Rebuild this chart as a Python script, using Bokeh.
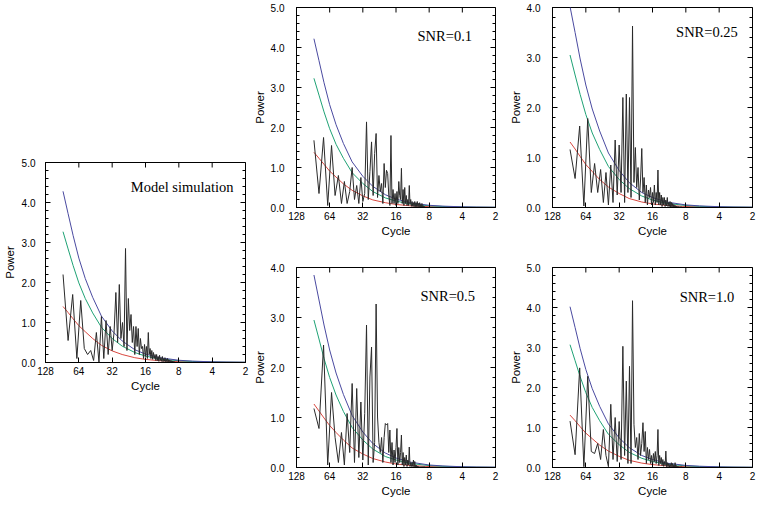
import math
from bokeh.plotting import figure
from bokeh.layouts import row, column
from bokeh.models import (Range1d, FixedTicker, SingleIntervalTicker,
                          PrintfTickFormatter, Label)
from bokeh.embed import file_html
from bokeh.resources import INLINE

# ---------------- data ----------------
record_length = 800
freq_index = list(range(9, 93))                       # spectral frequency index k
periods = [record_length / k for k in freq_index]     # cycle length of each spectral estimate
curve_periods = [88.9, 80, 72, 64, 56, 48, 40, 32, 26, 20, 16, 12, 8, 6, 4, 3, 2]
cycle_ticks = [128, 64, 32, 16, 8, 4, 2]

model_power = [
    2.20, 0.55, 1.70, 0.10, 1.55, 0.35, 0.20, 0.30, 0.05, 0.75,
    0.00, 1.15, 0.10, 1.05, 0.20, 0.90, 0.30, 0.75, 1.75, 0.50,
    1.95, 0.60, 1.00, 0.40, 2.85, 0.30, 1.60, 0.80, 1.20, 0.50,
    0.90, 0.20, 0.90, 0.40, 0.85, 0.20, 0.60, 0.35, 0.40, 0.10,
    0.45, 0.15, 0.40, 0.10, 0.75, 0.20, 0.35, 0.10, 0.30, 0.08,
    0.25, 0.10, 0.20, 0.05, 0.20, 0.05, 0.15, 0.03, 0.18, 0.05,
    0.12, 0.03, 0.15, 0.02, 0.10, 0.03, 0.12, 0.02, 0.08, 0.02,
    0.10, 0.01, 0.07, 0.02, 0.06, 0.01, 0.05, 0.01, 0.04, 0.01,
    0.03, 0.01, 0.02, 0.01]
model_red = [1.40, 1.25, 1.09, 0.92, 0.77, 0.60, 0.43, 0.29, 0.20, 0.12, 0.077, 0.045, 0.021, 0.013, 0.006, 0.004, 0.002]
model_green = [3.27, 2.84, 2.42, 1.99, 1.60, 1.24, 0.88, 0.60, 0.41, 0.25, 0.16, 0.092, 0.043, 0.026, 0.013, 0.008, 0.005]
model_blue = [4.28, 3.72, 3.17, 2.61, 2.10, 1.63, 1.16, 0.79, 0.54, 0.32, 0.21, 0.12, 0.056, 0.034, 0.017, 0.011, 0.006]

snr01_power = [
    1.68, 0.35, 1.75, 0.05, 1.55, 0.30, 0.80, 0.10, 0.65, 0.10,
    0.40, 1.00, 0.20, 0.55, 0.10, 0.75, 0.15, 0.35, 2.14, 0.20,
    0.90, 1.64, 0.30, 1.35, 1.85, 0.25, 0.80, 0.40, 0.60, 0.10,
    1.10, 0.50, 0.93, 0.85, 0.30, 0.05, 1.80, 0.10, 0.45, 0.10,
    0.35, 0.05, 0.40, 0.10, 0.65, 0.30, 0.20, 0.98, 0.10, 0.45,
    0.05, 0.50, 0.10, 0.30, 0.05, 0.20, 0.05, 0.55, 0.08, 0.20,
    0.03, 0.15, 0.03, 0.12, 0.02, 0.15, 0.02, 0.12, 0.02, 0.15,
    0.02, 0.10, 0.01, 0.12, 0.01, 0.08, 0.01, 0.10, 0.01, 0.05,
    0.01, 0.03, 0.01, 0.01]
snr01_red = [1.38, 1.23, 1.08, 0.91, 0.76, 0.59, 0.43, 0.29, 0.19, 0.12, 0.076, 0.044, 0.021, 0.012, 0.006, 0.003, 0.002]
snr01_green = [3.23, 2.81, 2.39, 1.97, 1.58, 1.23, 0.87, 0.60, 0.40, 0.24, 0.16, 0.090, 0.042, 0.026, 0.013, 0.008, 0.005]
snr01_blue = [4.22, 3.67, 3.12, 2.57, 2.07, 1.60, 1.14, 0.78, 0.53, 0.32, 0.21, 0.12, 0.055, 0.034, 0.017, 0.011, 0.006]

snr025_power = [
    1.16, 0.58, 1.63, 0.03, 1.78, 0.30, 0.88, 0.30, 0.76, 0.10,
    0.70, 0.05, 0.85, 0.10, 1.35, 0.25, 1.25, 0.30, 2.20, 0.10,
    2.27, 0.30, 2.20, 0.20, 3.63, 0.50, 1.20, 0.40, 0.80, 0.15,
    0.55, 1.18, 0.30, 0.60, 0.10, 0.45, 0.05, 0.35, 0.20, 0.40,
    0.05, 0.30, 0.10, 0.45, 0.05, 0.30, 0.10, 0.75, 0.05, 0.30,
    0.05, 0.25, 0.02, 0.20, 0.05, 0.20, 0.02, 0.15, 0.03, 0.20,
    0.02, 0.10, 0.02, 0.12, 0.01, 0.10, 0.01, 0.08, 0.01, 0.06,
    0.01, 0.04, 0.01, 0.03, 0.01, 0.02, 0.01, 0.02, 0.01, 0.01,
    0.01, 0.01, 0.01, 0.01]
snr025_red = [1.31, 1.17, 1.02, 0.86, 0.72, 0.56, 0.41, 0.28, 0.18, 0.11, 0.072, 0.042, 0.020, 0.012, 0.005, 0.003, 0.002]
snr025_green = [3.05, 2.65, 2.26, 1.86, 1.49, 1.16, 0.82, 0.56, 0.38, 0.23, 0.15, 0.085, 0.040, 0.024, 0.012, 0.008, 0.005]
snr025_blue = [4.02, 3.50, 2.97, 2.45, 1.97, 1.53, 1.09, 0.74, 0.50, 0.30, 0.20, 0.11, 0.052, 0.032, 0.016, 0.010, 0.006]

snr05_power = [
    1.18, 0.78, 2.45, 0.05, 1.50, 0.60, 0.10, 0.70, 0.05, 1.08,
    0.30, 1.68, 0.10, 1.58, 0.20, 1.31, 0.15, 1.08, 2.85, 0.05,
    1.81, 2.41, 0.10, 0.50, 3.27, 1.01, 0.50, 0.30, 0.60, 0.10,
    0.60, 0.88, 0.85, 0.88, 0.30, 0.75, 0.10, 0.50, 0.05, 0.35,
    0.10, 0.40, 0.78, 0.05, 0.40, 0.10, 0.30, 0.65, 0.05, 0.30,
    0.02, 0.20, 0.05, 0.25, 0.02, 0.15, 0.05, 0.41, 0.02, 0.10,
    0.02, 0.10, 0.02, 0.15, 0.01, 0.12, 0.01, 0.05, 0.01, 0.03,
    0.01, 0.02, 0.01, 0.01, 0.01, 0.01, 0.01, 0.01, 0.01, 0.01,
    0.01, 0.01, 0.01, 0.01]
snr05_red = [1.27, 1.13, 0.99, 0.84, 0.70, 0.55, 0.39, 0.27, 0.18, 0.11, 0.070, 0.041, 0.019, 0.011, 0.005, 0.003, 0.002]
snr05_green = [2.95, 2.57, 2.18, 1.80, 1.45, 1.12, 0.80, 0.55, 0.37, 0.22, 0.15, 0.083, 0.038, 0.024, 0.012, 0.007, 0.004]
snr05_blue = [3.85, 3.35, 2.85, 2.35, 1.89, 1.46, 1.04, 0.71, 0.48, 0.29, 0.19, 0.11, 0.050, 0.031, 0.015, 0.010, 0.006]

snr10_power = [
    1.16, 0.32, 2.49, 0.02, 2.28, 0.40, 0.35, 0.60, 0.20, 0.95,
    0.30, 0.02, 1.58, 0.20, 1.25, 0.15, 1.15, 0.20, 3.03, 0.30,
    2.16, 0.10, 2.53, 0.10, 4.17, 1.08, 0.50, 0.75, 0.20, 0.85,
    0.30, 0.60, 1.12, 0.40, 0.90, 0.10, 0.50, 0.20, 0.45, 0.10,
    0.30, 0.05, 0.35, 0.15, 0.40, 0.10, 0.30, 0.95, 0.05, 0.30,
    0.10, 0.25, 0.05, 0.20, 0.03, 0.15, 0.05, 0.41, 0.02, 0.12,
    0.02, 0.10, 0.01, 0.08, 0.02, 0.12, 0.01, 0.10, 0.01, 0.06,
    0.01, 0.12, 0.01, 0.05, 0.01, 0.03, 0.01, 0.02, 0.01, 0.01,
    0.01, 0.01, 0.01, 0.01]
snr10_red = [1.31, 1.17, 1.02, 0.86, 0.72, 0.56, 0.41, 0.28, 0.18, 0.11, 0.072, 0.042, 0.020, 0.012, 0.005, 0.003, 0.002]
snr10_green = [3.07, 2.67, 2.27, 1.87, 1.50, 1.17, 0.83, 0.57, 0.38, 0.23, 0.15, 0.086, 0.040, 0.025, 0.012, 0.008, 0.005]
snr10_blue = [4.02, 3.50, 2.97, 2.45, 1.97, 1.53, 1.09, 0.74, 0.50, 0.30, 0.20, 0.11, 0.052, 0.032, 0.016, 0.010, 0.006]

# ---------------- styling ----------------
SANS = "Liberation Sans"
SERIF = "Liberation Serif"
RED = "#d9473f"
GREEN = "#1fa275"
BLUE = "#4a4aa0"
BLACK = "#2a2a2a"


def style_axis(ax):
    ax.axis_line_color = "black"
    ax.major_tick_line_color = "black"
    ax.minor_tick_line_color = "black"
    ax.major_tick_in = 5
    ax.major_tick_out = 0
    ax.minor_tick_in = 3
    ax.minor_tick_out = 0
    ax.major_label_text_font = SANS
    ax.major_label_text_font_size = "10px"
    ax.major_label_text_color = "black"
    ax.axis_label_text_font = SANS
    ax.axis_label_text_font_style = "normal"
    ax.axis_label_text_font_size = "11.5px"
    ax.axis_label_text_color = "black"


def make_panel(title, title_x, title_y, ymax, power, red, green, blue,
               width, height, mb_left, mb_right, mb_top, mb_bottom,
               ylab_standoff, yaxis_label_standoff):
    p = figure(width=width, height=height, x_axis_type="log",
               x_range=Range1d(128, 2), y_range=Range1d(0, ymax),
               output_backend="svg", toolbar_location=None,
               min_border_left=mb_left, min_border_right=mb_right,
               min_border_top=mb_top, min_border_bottom=mb_bottom,
               background_fill_color="white", border_fill_color="white")
    p.grid.visible = False
    p.outline_line_color = "black"

    p.line(curve_periods, red, line_color=RED, line_width=1)
    p.line(curve_periods, green, line_color=GREEN, line_width=1)
    p.line(curve_periods, blue, line_color=BLUE, line_width=1)
    p.line(periods, power, line_color=BLACK, line_width=1)

    xb = p.xaxis[0]
    xb.ticker = FixedTicker(ticks=cycle_ticks, minor_ticks=[])
    xb.formatter = PrintfTickFormatter(format="%d")
    xb.axis_label = "Cycle"
    style_axis(xb)
    xb.major_label_standoff = 4
    xb.axis_label_standoff = 2

    yl = p.yaxis[0]
    yl.ticker = SingleIntervalTicker(interval=1, num_minor_ticks=5)
    yl.formatter = PrintfTickFormatter(format="%.1f")
    yl.axis_label = "Power"
    style_axis(yl)
    yl.major_label_standoff = ylab_standoff
    yl.axis_label_standoff = yaxis_label_standoff

    # mirrored inward tick marks on the top and right frame edges
    # (half of each dash is clipped by the frame, leaving an inward tick)
    major_y = list(range(0, ymax + 1))
    minor_y = [j / 5 for j in range(0, ymax * 5 + 1) if j % 5 != 0]
    p.scatter(cycle_ticks, [ymax] * len(cycle_ticks), marker="dash", angle=math.pi / 2,
              size=10, line_color="black", line_width=1)
    p.scatter([2] * len(major_y), major_y, marker="dash", size=10,
              line_color="black", line_width=1)
    p.scatter([2] * len(minor_y), minor_y, marker="dash", size=6,
              line_color="black", line_width=1)

    p.add_layout(Label(x=title_x, y=title_y, text=title, text_font=SERIF,
                       text_font_size="14.5px", text_color="black",
                       text_align="left", text_baseline="alphabetic"))
    return p


p_model = make_panel("Model simulation", 21.7, 4.38, 5, model_power, model_red, model_green, model_blue,
                     250, 506, 42, 5, 162, 144, 10, 3)
p_01 = make_panel("SNR=0.1", 10.2, 4.28, 5, snr01_power, snr01_red, snr01_green, snr01_blue,
                  250, 253, 44, 5, 7, 46, 12, 2)
p_05 = make_panel("SNR=0.5", 9.6, 3.43, 4, snr05_power, snr05_red, snr05_green, snr05_blue,
                  250, 253, 44, 5, 14, 39, 12, 2)
p_025 = make_panel("SNR=0.25", 9.8, 3.51, 4, snr025_power, snr025_red, snr025_green, snr025_blue,
                   260, 253, 52, 8, 7, 46, 12, 2)
p_10 = make_panel("SNR=1.0", 9.1, 4.27, 5, snr10_power, snr10_red, snr10_green, snr10_blue,
                  260, 253, 52, 8, 14, 39, 12, 2)

layout = row(p_model, column(p_01, p_05), column(p_025, p_10))

open("out.html", "w").write(file_html(layout, INLINE))
